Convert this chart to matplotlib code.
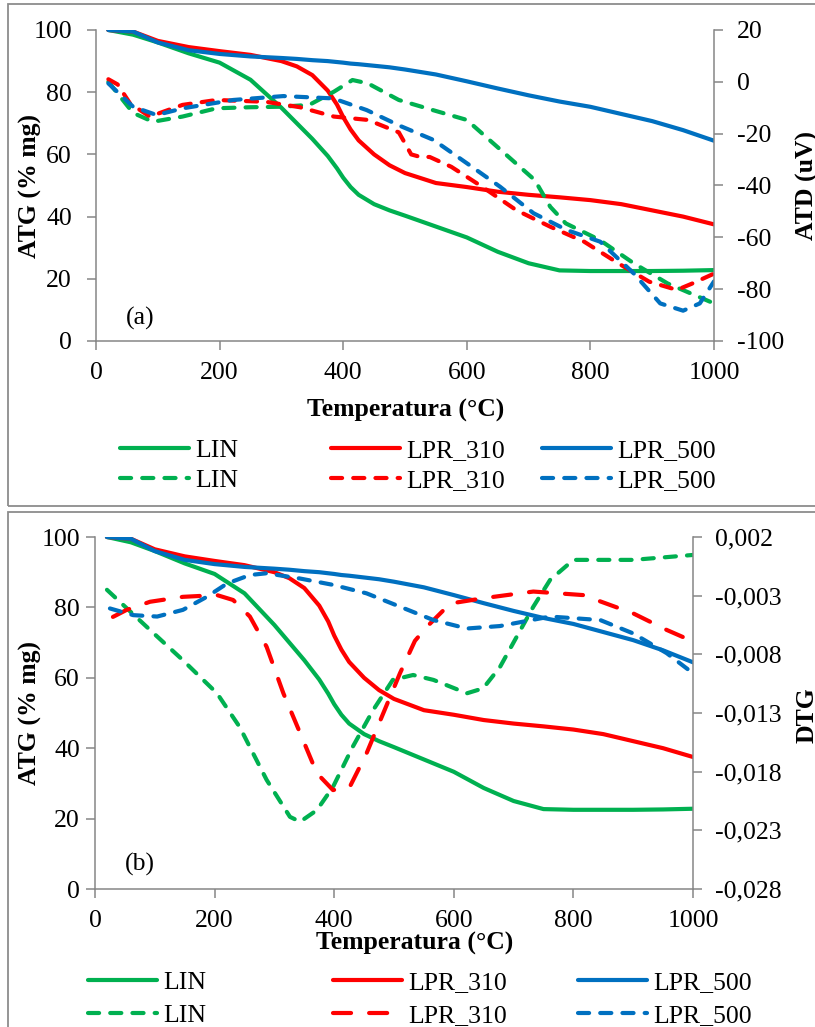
import matplotlib
matplotlib.use("Agg")
import matplotlib.pyplot as plt
from matplotlib.patches import Rectangle
from matplotlib.ticker import FuncFormatter

plt.rcParams['font.family'] = ['Liberation Serif', 'DejaVu Serif']
plt.rcParams['font.size'] = 18.5
plt.rcParams['axes.unicode_minus'] = False
plt.rcParams['lines.scale_dashes'] = False

# ATG (% mg) vs temperature, same curves in both panels
temp_atg = [20, 60, 100, 150, 200, 250, 300, 325, 350, 375, 390, 400, 412, 425, 450,
            475, 500, 550, 600, 650, 700, 750, 800, 850, 900, 950, 1000]
atg_lin = [100, 98.5, 96, 92.5, 89.5, 84, 75, 70, 65, 59.5, 55.5, 52.5, 49.5, 47, 44,
           42, 40.3, 36.8, 33.3, 28.7, 25, 22.7, 22.5, 22.5, 22.5, 22.6, 22.8]
atg_310 = [100, 99.5, 96.5, 94.5, 93.2, 92, 90, 88.3, 85.5, 80.5, 76, 72, 68, 64.5, 60,
           56.5, 54, 50.8, 49.5, 48, 47, 46.2, 45.3, 44, 42, 40, 37.5]
atg_500 = [100, 99.5, 96, 93.5, 92.3, 91.5, 91, 90.7, 90.3, 90, 89.7, 89.5, 89.2, 89, 88.5,
           88, 87.3, 85.7, 83.5, 81.2, 79, 77, 75.3, 73, 70.7, 67.8, 64.4]

# ATD (uV), panel (a)
atd_lin_t = [20, 40, 60, 92, 140, 195, 250, 300, 345, 385, 415, 440, 490, 545,
             600, 655, 710, 735, 760, 815, 870, 925, 1000]
atd_lin = [0, -6, -12, -15.4, -13.4, -10.2, -9.8, -9.6, -8.9, -3.8, 0.7, -0.6, -7,
           -10.9, -14.7, -26.3, -37.9, -48.2, -54.6, -61, -70, -77.8, -85.5]
atd_310_t = [20, 35, 55, 87, 140, 195, 275, 330, 385, 440, 490, 510, 525, 540,
             575, 625, 680, 735, 790, 845, 895, 940, 965, 1000]
atd_310 = [1, -1, -8.3, -13.4, -8.9, -7, -7.7, -9.8, -13.4, -14.7, -19.5, -28, -29,
           -29, -32.8, -40.5, -49.5, -55.9, -61.7, -70, -77.1, -80.3, -77.8, -74]
atd_500_t = [20, 60, 98, 141, 222, 303, 384, 438, 492, 546, 600, 654, 708, 762,
             816, 870, 913, 950, 977, 1000]
atd_500 = [-0.6, -9.6, -12.8, -10.2, -7, -5.5, -6.4, -10.9, -17, -22.4, -31.4,
           -40.5, -50.7, -57.2, -61.7, -73.9, -85.5, -88.3, -85.5, -77]

# DTG, panel (b)
dtg_lin_t = [20, 92, 147, 204, 242, 287, 326, 343, 371, 398, 431, 465, 498, 532,
             566, 622, 649, 677, 705, 733, 761, 800, 900, 1000]
dtg_lin = [-0.0025, -0.00592, -0.0085, -0.01132, -0.0142, -0.0187, -0.02185,
           -0.02227, -0.02128, -0.0193, -0.01588, -0.01276, -0.01018, -0.00976,
           -0.01018, -0.01132, -0.0109, -0.0091, -0.00652, -0.00394, -0.00166,
           0.00005, 0.00005, 0.00047]
dtg_310_t = [30, 53, 92, 147, 204, 231, 259, 287, 315, 343, 371, 398, 426, 454,
             482, 510, 535, 555, 594, 649, 733, 816, 900, 956, 995]
dtg_310 = [-0.00481, -0.00421, -0.00352, -0.0031, -0.00295, -0.00337, -0.00478,
           -0.00736, -0.01132, -0.01471, -0.01813, -0.01957, -0.0193, -0.01645,
           -0.01303, -0.00961, -0.00685, -0.00565, -0.00367, -0.00322, -0.00265,
           -0.00295, -0.00451, -0.00592, -0.00679]
dtg_500_t = [25, 64, 104, 147, 187, 221, 259, 287, 343, 398, 454, 510, 566, 622,
             677, 761, 845, 900, 956, 1000]
dtg_500 = [-0.00409, -0.00466, -0.00478, -0.00421, -0.0031, -0.00196, -0.00124,
           -0.00109, -0.00154, -0.00208, -0.0028, -0.00394, -0.00508, -0.0058,
           -0.00559, -0.00478, -0.00508, -0.00622, -0.0079, -0.00961]

names = ['LIN', 'LPR_310', 'LPR_500']
colors = ['#00B050', '#FF0000', '#0070C0']
x_ticks = [0, 200, 400, 600, 800, 1000]
atg_ticks = [0, 20, 40, 60, 80, 100]
atd_ticks = [-100, -80, -60, -40, -20, 0, 20]
dtg_ticks = [0.002, -0.003, -0.008, -0.013, -0.018, -0.023, -0.028]

W, H = 815, 1027
grey = '#868686'
short = (0, (8, 8))
long_ = (0, (13, 13))


def fx(px):
    return px / W


def fy(py):
    return 1 - py / H


def style(ax, side, pad_y):
    for s in ['top', 'left', 'right', 'bottom']:
        ax.spines[s].set_visible(False)
    ax.spines[side].set_visible(True)
    ax.spines[side].set_color(grey)
    ax.spines[side].set_linewidth(1.1)
    ax.tick_params(axis='y', length=6.5, width=1.1, color=grey, pad=pad_y)


def style_x(ax, pad):
    ax.spines['bottom'].set_visible(True)
    ax.spines['bottom'].set_color(grey)
    ax.spines['bottom'].set_linewidth(1.1)
    ax.tick_params(axis='x', length=6.5, width=1.1, color=grey, pad=pad)


fig = plt.figure(figsize=(8.15, 10.27), dpi=100)

# panel frames
fig.patches.append(Rectangle((fx(8), fy(506)), 1.0, (506 - 4) / H, transform=fig.transFigure,
                             fill=False, ec='#8c8c8c', lw=1.3))
fig.patches.append(Rectangle((fx(8), fy(1060)), 1.0, (1060 - 512) / H, transform=fig.transFigure,
                             fill=False, ec='#8c8c8c', lw=1.3))

# caption above, almost entirely outside the picture
fig.text(fx(34), 1 + 11 / H, "Figura 2. (a) Curvas ATG e ATD, e também (b) Curvas ATG e DTG, das amostras.",
         ha='left', va='baseline')

atg = [atg_lin, atg_310, atg_500]

# ---------------- panel (a)
ax_a = fig.add_axes([fx(96), fy(341), (714 - 96) / W, (341 - 30) / H])
ax_a2 = ax_a.twinx()
solid_a = []
for y, c, n in zip(atg, colors, names):
    l, = ax_a.plot(temp_atg, y, color=c, lw=3, solid_capstyle='round', solid_joinstyle='round', label=n)
    solid_a.append(l)
dash_a = []
for t, y, c, n in zip([atd_lin_t, atd_310_t, atd_500_t], [atd_lin, atd_310, atd_500], colors, names):
    l, = ax_a2.plot(t, y, color=c, lw=3, linestyle=short, dash_capstyle='round', dash_joinstyle='round', label=n)
    dash_a.append(l)

ax_a.set_xlim(0, 1000)
ax_a.set_ylim(0, 100)
ax_a2.set_ylim(-100, 20)
ax_a.set_xticks(x_ticks)
ax_a.set_yticks(atg_ticks)
ax_a2.set_yticks(atd_ticks)
style(ax_a, 'left', 10.8)
style(ax_a2, 'right', 10)
style_x(ax_a, 8.5)

fig.text(fx(30), fy(186), 'ATG (% mg)', rotation=90, ha='center', va='center', fontweight='bold')
fig.text(fx(807), fy(186), 'ATD (uV)', rotation=90, ha='center', va='center', fontweight='bold')
fig.text(fx(406), fy(410), 'Temperatura (°C)', ha='center', va='center', fontweight='bold')
fig.text(fx(126), fy(318), '(a)', ha='left', va='center')

# ---------------- panel (b)
ax_b = fig.add_axes([fx(95), fy(889), (693 - 95) / W, (889 - 537) / H])
ax_b2 = ax_b.twinx()
solid_b = []
for y, c, n in zip(atg, colors, names):
    l, = ax_b.plot(temp_atg, y, color=c, lw=3, solid_capstyle='round', solid_joinstyle='round', label=n)
    solid_b.append(l)
dash_b = []
for t, y, c, n, ls in zip([dtg_lin_t, dtg_310_t, dtg_500_t], [dtg_lin, dtg_310, dtg_500],
                          colors, names, [short, long_, short]):
    l, = ax_b2.plot(t, y, color=c, lw=3, linestyle=ls, dash_capstyle='round', dash_joinstyle='round', label=n)
    dash_b.append(l)

ax_b.set_xlim(0, 1000)
ax_b.set_ylim(0, 100)
ax_b2.set_ylim(-0.028, 0.002)
ax_b.set_xticks(x_ticks)
ax_b.set_yticks(atg_ticks)
ax_b2.set_yticks(dtg_ticks)
ax_b2.yaxis.set_major_formatter(FuncFormatter(lambda v, p: f"{v:.3f}".replace('.', ',')))
style(ax_b, 'left', 4.3)
style(ax_b2, 'right', 9.4)
style_x(ax_b, 8.5)

fig.text(fx(30), fy(713), 'ATG (% mg)', rotation=90, ha='center', va='center', fontweight='bold')
fig.text(fx(807), fy(715), 'DTG', rotation=90, ha='center', va='center', fontweight='bold')
fig.text(fx(415), fy(943), 'Temperatura (°C)', ha='center', va='center', fontweight='bold')
fig.text(fx(125), fy(864), '(b)', ha='left', va='center')

# legends, one column per sample
for i, x in enumerate([120, 331, 542]):
    fig.legend(handles=[solid_a[i], dash_a[i]], labels=[names[i], names[i]], loc='upper left',
               bbox_to_anchor=(fx(x), fy(439)), bbox_transform=fig.transFigure, frameon=False,
               borderpad=0, borderaxespad=0, handlelength=2.7, handletextpad=0.23, labelspacing=0.28)
for i, x in enumerate([88, 333, 578]):
    fig.legend(handles=[solid_b[i], dash_b[i]], labels=[names[i], names[i]], loc='upper left',
               bbox_to_anchor=(fx(x), fy(971)), bbox_transform=fig.transFigure, frameon=False,
               borderpad=0, borderaxespad=0, handlelength=2.7, handletextpad=0.23, labelspacing=0.4)

fig.savefig('out.png', dpi=100)
